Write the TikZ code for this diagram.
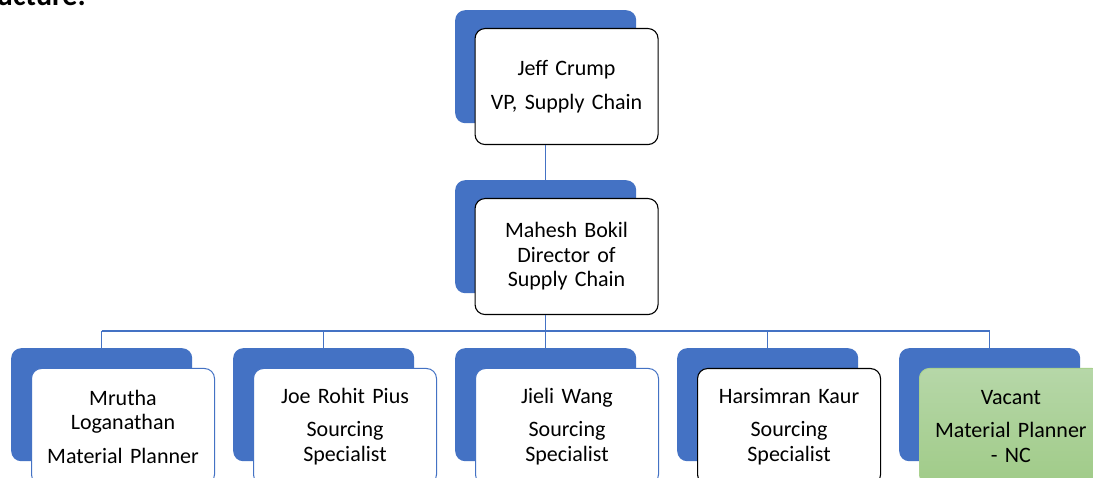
\documentclass[tikz,border=0pt]{standalone}
\usepackage{fontspec}
\setmainfont{Carlito}
\definecolor{accent}{HTML}{4472C4}
\definecolor{vacTop}{HTML}{B6D7A8}
\definecolor{vacBot}{HTML}{A0CB88}
\definecolor{vacLine}{HTML}{A9D18E}
\tikzset{
  backtab/.style={fill=accent, draw=none, rounded corners=10pt,
    minimum width=181pt, minimum height=113pt, inner sep=0pt, anchor=north west},
  card/.style={fill=white, draw=black, line width=1.1pt, rounded corners=10pt,
    minimum width=183pt, minimum height=116pt, inner sep=2pt, anchor=north west,
    align=center, text width=179pt, font=\fontsize{22}{24.5}\selectfont},
  bluecard/.style={card, draw=accent, line width=1pt},
  vaccard/.style={card, draw=vacLine, line width=0.8pt, top color=vacTop, bottom color=vacBot},
  link/.style={draw=accent, line width=1.3pt},
}
\begin{document}
\begin{tikzpicture}[x=1pt, y=-1pt]
\clip (0,0) rectangle (1093,478);
\fill[white] (0,0) rectangle (1093,478);

% heading, mostly above the page edge
\node[anchor=base east, inner sep=0pt, font=\fontsize{30}{30}\selectfont\bfseries] (heading) at (86,6) {Structure:};

% top level
\node[backtab] (jeffB) at (455,10) {};
\node[card] (jeff) at (474.5,28) {Jeff Crump\\[9pt]VP, Supply Chain};

% second level
\node[backtab] (mahB) at (455,180) {};
\node[card] (mah) at (474.5,198) {Mahesh Bokil\\Director of\\Supply Chain};

% third level
\node[backtab] (mruB) at (11,348) {};
\node[bluecard] (mru) at (31,368) {Mrutha\\Loganathan\\[9pt]Material Planner};

\node[backtab] (joeB) at (233,348) {};
\node[bluecard] (joe) at (253,368) {Joe Rohit Pius\\[9pt]Sourcing\\Specialist};

\node[backtab] (jieB) at (455,348) {};
\node[bluecard] (jie) at (475,368) {Jieli Wang\\[9pt]Sourcing\\Specialist};

\node[backtab] (harB) at (677,348) {};
\node[card] (har) at (697,368) {Harsimran Kaur\\[9pt]Sourcing\\Specialist};

\node[backtab] (vacB) at (899,348) {};
\node[vaccard] (vac) at (919,368) {Vacant\\[9pt]Material Planner\\- NC};

% reporting lines
\coordinate (bus) at (0,331);
\draw[link] (jeffB.south |- jeff.south) -- (mahB.north);
\draw[link] (mahB.south |- mah.south) -- (mahB.south |- bus);
\draw[link] (mruB.north |- bus) -- (vacB.north |- bus);
\foreach \b in {mruB, joeB, jieB, harB, vacB}
  \draw[link] (\b.north |- bus) -- (\b.north);
\end{tikzpicture}
\end{document}
